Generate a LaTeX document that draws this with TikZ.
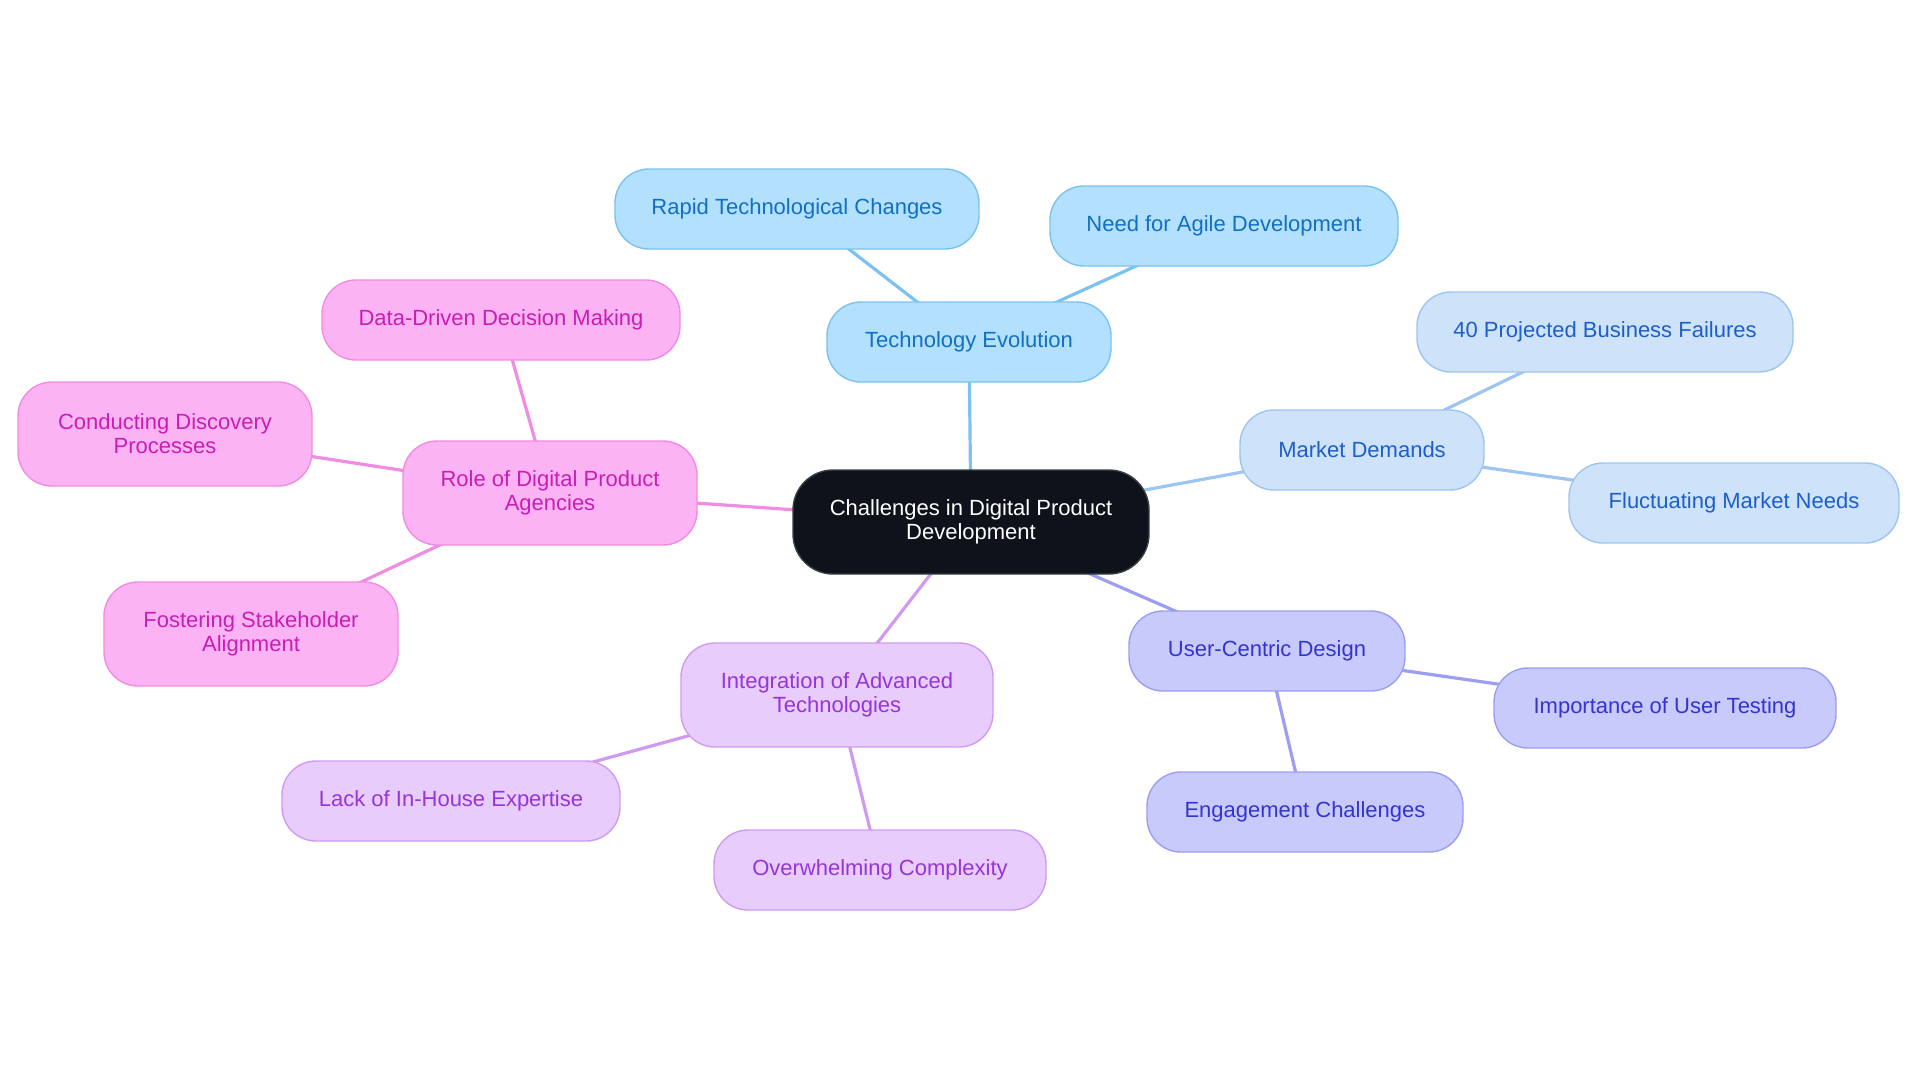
\documentclass[tikz,border=0pt]{standalone}
\usepackage{fontspec}
\setmainfont{Liberation Sans}
\usetikzlibrary{backgrounds}

\definecolor{rootfill}{HTML}{0D121B}
\definecolor{rootline}{HTML}{3A3E45}
\definecolor{techfill}{HTML}{B3E0FD}
\definecolor{techline}{HTML}{7CC2F0}
\definecolor{techtext}{HTML}{1170C4}
\definecolor{mktfill}{HTML}{CEE3FA}
\definecolor{mktline}{HTML}{9EC5F2}
\definecolor{mkttext}{HTML}{1C5FCB}
\definecolor{userfill}{HTML}{C8CAFC}
\definecolor{userline}{HTML}{9B9EF2}
\definecolor{usertext}{HTML}{3434CF}
\definecolor{intfill}{HTML}{E7CCFC}
\definecolor{intline}{HTML}{CF9BF2}
\definecolor{inttext}{HTML}{9535DA}
\definecolor{agyfill}{HTML}{FCB3F3}
\definecolor{agyline}{HTML}{F08CE1}
\definecolor{agytext}{HTML}{C91DB5}

\tikzset{
  box/.style={draw, line width=0.7pt, rounded corners=17pt, minimum height=40pt,
    inner sep=0pt, align=center, font=\fontsize{11}{12}\selectfont},
  tall/.style={minimum height=52pt},
  root/.style={box, tall, fill=rootfill, draw=rootline, text=white, rounded corners=20pt},
  tech/.style={box, fill=techfill, draw=techline, text=techtext},
  mkt/.style={box, fill=mktfill, draw=mktline, text=mkttext},
  user/.style={box, fill=userfill, draw=userline, text=usertext},
  integ/.style={box, fill=intfill, draw=intline, text=inttext},
  agency/.style={box, fill=agyfill, draw=agyline, text=agytext},
  link/.style={line width=1.6pt}
}

\begin{document}
\begin{tikzpicture}[x=0.5pt,y=-0.5pt]
\useasboundingbox (0,0) rectangle (1920,1083);

% centre
\node[root, minimum width=178pt] (root) at (971,522) {Challenges in Digital Product\\Development};

% technology
\node[tech, minimum width=142pt] (techevo) at (969,342) {Technology Evolution};
\node[tech, minimum width=182pt] (rapid) at (797,209) {Rapid Technological Changes};
\node[tech, minimum width=174pt] (agile) at (1224,226) {Need for Agile Development};

% market
\node[mkt, minimum width=122pt] (market) at (1362,450) {Market Demands};
\node[mkt, minimum width=188pt] (failures) at (1605,332) {40 Projected Business Failures};
\node[mkt, minimum width=165pt] (fluct) at (1734,503) {Fluctuating Market Needs};

% users
\node[user, minimum width=138pt] (ucd) at (1267,651) {User-Centric Design};
\node[user, minimum width=171pt] (testing) at (1665,708) {Importance of User Testing};
\node[user, minimum width=158pt] (engage) at (1305,812) {Engagement Challenges};

% integration
\node[integ, tall, minimum width=156pt] (integ) at (837,695) {Integration of Advanced\\Technologies};
\node[integ, minimum width=169pt] (lack) at (451,801) {Lack of In-House Expertise};
\node[integ, minimum width=166pt] (complex) at (880,870) {Overwhelming Complexity};

% agencies
\node[agency, tall, minimum width=147pt] (agency) at (550,493) {Role of Digital Product\\Agencies};
\node[agency, minimum width=179pt] (data) at (501,320) {Data-Driven Decision Making};
\node[agency, tall, minimum width=147pt] (discov) at (165,434) {Conducting Discovery\\Processes};
\node[agency, tall, minimum width=147pt] (stake) at (251,634) {Fostering Stakeholder\\Alignment};

\begin{scope}[on background layer]
\draw[link, techline] (root.center) -- (techevo.center);
\draw[link, techline] (techevo.center) -- (rapid.center);
\draw[link, techline] (techevo.center) -- (agile.center);
\draw[link, mktline] (root.center) -- (market.center);
\draw[link, mktline] (market.center) -- (failures.center);
\draw[link, mktline] (market.center) -- (fluct.center);
\draw[link, userline] (root.center) -- (ucd.center);
\draw[link, userline] (ucd.center) -- (testing.center);
\draw[link, userline] (ucd.center) -- (engage.center);
\draw[link, intline] (root.center) -- (integ.center);
\draw[link, intline] (integ.center) -- (lack.center);
\draw[link, intline] (integ.center) -- (complex.center);
\draw[link, agyline] (root.center) -- (agency.center);
\draw[link, agyline] (agency.center) -- (data.center);
\draw[link, agyline] (agency.center) -- (discov.center);
\draw[link, agyline] (agency.center) -- (stake.center);
\end{scope}
\end{tikzpicture}
\end{document}
